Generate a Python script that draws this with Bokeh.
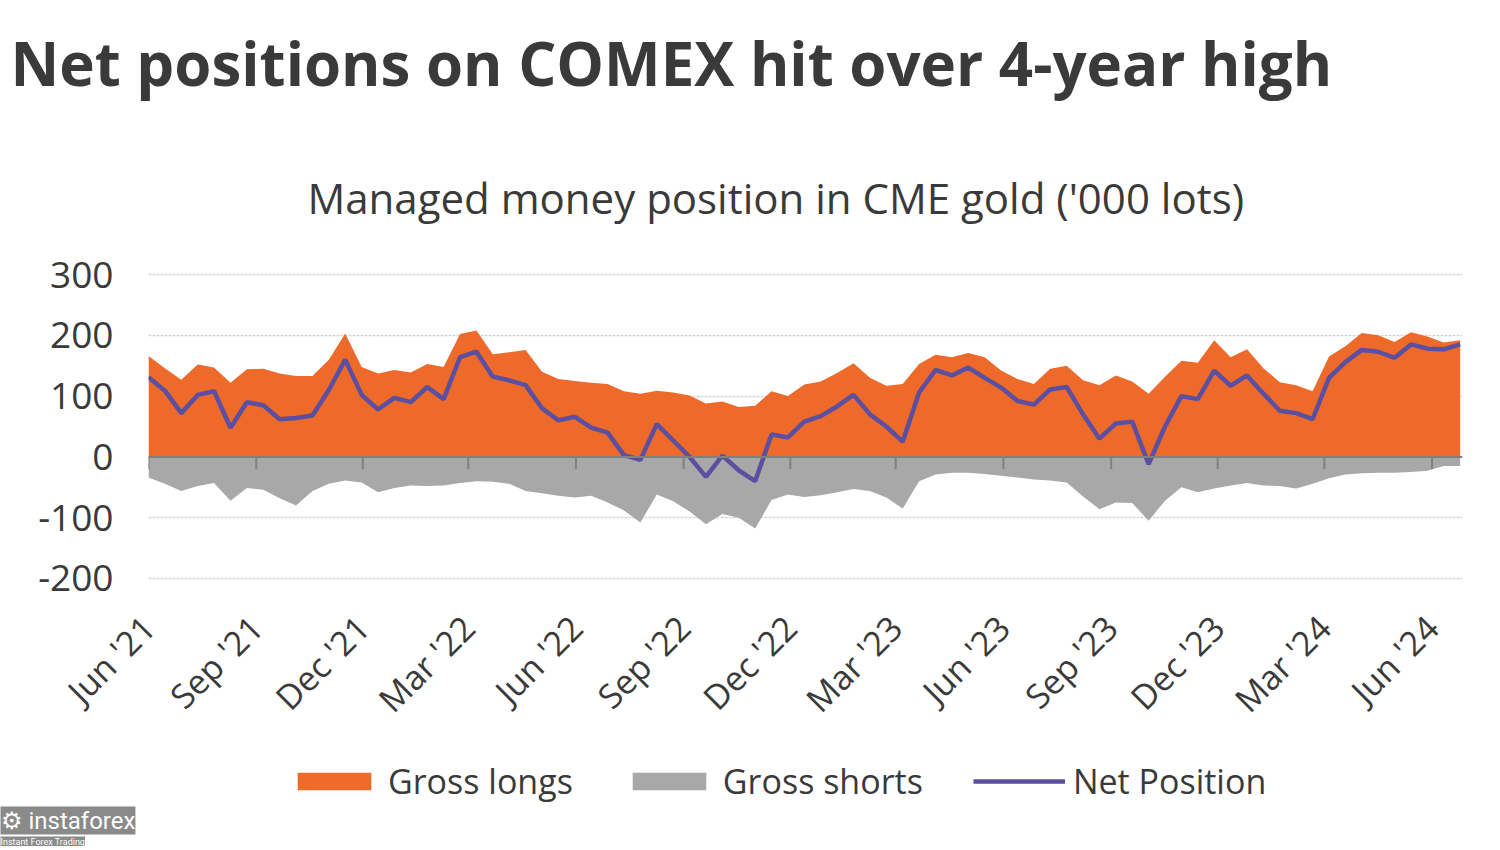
from math import pi
import pandas as pd
from bokeh.plotting import figure
from bokeh.layouts import column
from bokeh.models import (Legend, LegendItem, Span, Title, FixedTicker,
                          DatetimeTickFormatter)
from bokeh.embed import file_html
from bokeh.resources import INLINE

# ---- data ('000 lots), bi-weekly readings ----
start = pd.Timestamp("2021-06-01")
dates = pd.date_range(start, periods=81, freq="14D")

longs = [166, 146, 127, 152, 147, 122, 144, 145, 137, 133, 133, 160, 203, 148, 137, 143,
         139, 153, 148, 202, 208, 169, 172, 176, 140, 128, 125, 122, 120, 108, 104, 109,
         106, 101, 88, 91, 82, 84, 108, 100, 119, 124, 138, 154, 130, 117, 120, 153, 168,
         164, 171, 164, 142, 128, 120, 145, 150, 126, 118, 134, 124, 104, 132, 158, 155,
         192, 164, 177, 146, 123, 118, 108, 165, 182, 204, 200, 189, 205, 198, 188, 192]

shorts = [-34, -44, -56, -48, -43, -72, -51, -54, -68, -80, -56, -44, -39, -42, -58, -51,
          -47, -48, -47, -43, -40, -41, -44, -56, -60, -64, -67, -64, -75, -88, -108, -62,
          -73, -90, -111, -94, -100, -118, -71, -62, -66, -63, -58, -53, -56, -67, -85, -40,
          -29, -26, -26, -28, -31, -34, -37, -39, -42, -65, -86, -75, -76, -105, -72, -50,
          -58, -52, -47, -43, -47, -48, -52, -44, -35, -29, -27, -26, -26, -25, -23, -15, -15]

net = [131, 109, 72, 102, 108, 48, 90, 85, 62, 64, 68, 110, 160, 102, 78, 97, 90, 115, 95,
       164, 173, 132, 126, 118, 80, 60, 66, 48, 40, 3, -5, 54, 27, 0, -33, 2, -22, -40, 37,
       32, 58, 67, 83, 102, 70, 50, 25, 106, 143, 134, 147, 130, 114, 92, 86, 111, 115, 70,
       30, 55, 58, -12, 50, 100, 95, 142, 117, 134, 104, 76, 72, 62, 130, 156, 176, 173,
       163, 185, 178, 177, 185]

tick_dates = pd.to_datetime(["2021-06-01", "2021-09-01", "2021-12-01", "2022-03-01",
                             "2022-06-01", "2022-09-01", "2022-12-01", "2023-03-01",
                             "2023-06-01", "2023-09-01", "2023-12-01", "2024-03-01",
                             "2024-06-01"])
y_ticks = [-200, -100, 0, 100, 200, 300]
y_labels = ["-200", "-100", "0", "100", "200", "300"]

title_text = "Net positions on COMEX hit over 4-year high"
subtitle_text = "Managed money position in CME gold ('000 lots)"
series_names = ["Gross longs", "Gross shorts", "Net Position"]
brand_text = "\u2699 instaforex"
brand_sub = "Instant Forex Trading"

ORANGE = "#EE6A2A"
GREY = "#A8A8A8"
NAVY = "#5A4FA0"
TXT = "#3a3a3a"
FONT = "Open Sans"

# ---------------- main chart ----------------
p = figure(width=1496, height=740, x_axis_type="datetime", output_backend="svg",
           toolbar_location=None, title=None,
           x_range=(start, start + pd.Timedelta(days=1122)), y_range=(-205, 305),
           min_border_left=148, min_border_right=34, min_border_top=271,
           min_border_bottom=159)
p.outline_line_color = None
p.background_fill_color = "white"
p.border_fill_color = "white"

p.xgrid.grid_line_color = None
p.ygrid.ticker = FixedTicker(ticks=y_ticks)
p.ygrid.grid_line_color = "#d6d6d6"
p.ygrid.grid_line_width = 1.5
p.ygrid.grid_line_dash = "3 1"

p.yaxis.ticker = FixedTicker(ticks=y_ticks)
p.yaxis.major_label_overrides = dict(zip(y_ticks, y_labels))
p.yaxis.axis_line_color = None
p.yaxis.major_tick_line_color = None
p.yaxis.minor_tick_line_color = None
p.yaxis.major_label_text_font = FONT
p.yaxis.major_label_text_font_size = "37px"
p.yaxis.major_label_text_color = TXT
p.yaxis.major_label_standoff = 29

p.xaxis.ticker = FixedTicker(ticks=[d.value // 10**6 for d in tick_dates])
fmt = "%b '%y"
p.xaxis.formatter = DatetimeTickFormatter(days=fmt, months=fmt, years=fmt, hours=fmt,
                                          minutes=fmt, seconds=fmt, milliseconds=fmt,
                                          microseconds=fmt, minsec=fmt, hourmin=fmt)
p.xaxis.axis_line_color = None
p.xaxis.major_tick_line_color = None
p.xaxis.minor_tick_line_color = None
p.xaxis.major_label_orientation = pi / 4
p.xaxis.major_label_text_font = FONT
p.xaxis.major_label_text_font_size = "34px"
p.xaxis.major_label_text_color = TXT
p.xaxis.major_label_standoff = 34

p.varea(x=dates, y1=0, y2=longs, fill_color=ORANGE)
p.varea(x=dates, y1=shorts, y2=0, fill_color=GREY)
p.line(x=dates, y=net, line_color=NAVY, line_width=4.5)

p.add_layout(Span(location=0, dimension="width", line_color="#808080", line_width=2))
p.segment(x0=tick_dates, y0=0, x1=tick_dates, y1=-20, line_color="#808080", line_width=2)

p.add_layout(Title(text=subtitle_text, align="left", offset=159, text_font=FONT,
                   text_font_size="42px", text_font_style="normal", text_color=TXT,
                   standoff=92), "above")
p.add_layout(Title(text=title_text, align="left", offset=-138, text_font=FONT,
                   text_font_size="60px", text_font_style="bold", text_color=TXT,
                   standoff=33), "above")

# ---------------- legend strip (frame aligned with the chart) ----------------
q = figure(width=1496, height=106, output_backend="svg", toolbar_location=None,
           title=None, x_range=(0, 1), y_range=(0, 1),
           min_border_left=148, min_border_right=34, min_border_top=0,
           min_border_bottom=0)
q.axis.visible = False
q.grid.visible = False
q.outline_line_color = None
q.background_fill_color = "white"
q.border_fill_color = "white"

# legend keys: first data values, far outside this strip's ranges (nothing drawn)
k_long = q.varea(x=dates[:2], y1=[0, 0], y2=longs[:2], fill_color=ORANGE)
k_short = q.varea(x=dates[:2], y1=shorts[:2], y2=[0, 0], fill_color=GREY)
k_net = q.line(x=dates[:2], y=net[:2], line_color=NAVY, line_width=4.5)

legend = Legend(items=[LegendItem(label=series_names[0], renderers=[k_long]),
                       LegendItem(label=series_names[1], renderers=[k_short]),
                       LegendItem(label=series_names[2], renderers=[k_net])],
                orientation="horizontal", location=(140, 0),
                glyph_width=92, glyph_height=22, label_standoff=8, spacing=50,
                padding=0, margin=0, border_line_color=None,
                background_fill_alpha=0,
                label_text_font=FONT, label_text_font_size="34px",
                label_text_color=TXT)
q.add_layout(legend)

# watermark (bottom-left corner)
q.add_layout(Title(text=brand_text, align="left", offset=-148, text_font="Roboto",
                   text_font_size="24px", text_font_style="normal", text_color="white",
                   background_fill_color="#8a8a8a", standoff=0), "below")
q.add_layout(Title(text=brand_sub, align="left", offset=-148, text_font="Roboto",
                   text_font_size="9px", text_font_style="normal", text_color="white",
                   background_fill_color="#8a8a8a", standoff=0), "below")

open("out.html", "w").write(file_html(column(p, q, spacing=0), INLINE))
